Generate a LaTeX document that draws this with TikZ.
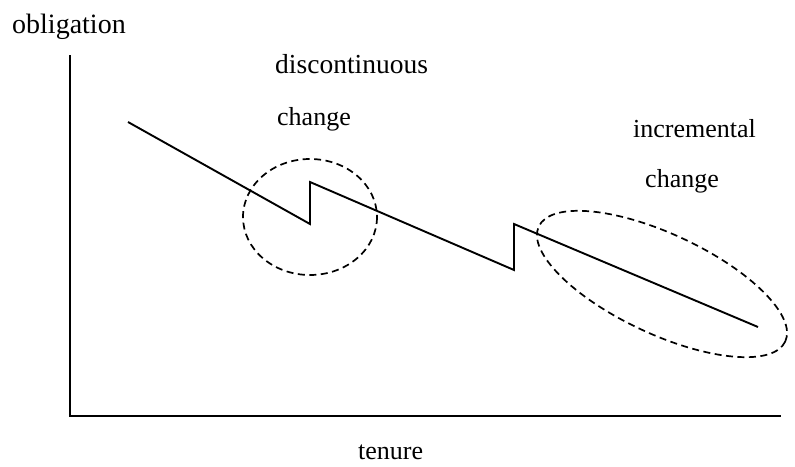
\documentclass[tikz,border=0pt]{standalone}
\usepackage{fontspec}
\setmainfont{Liberation Serif}
\begin{document}
\begin{tikzpicture}[x=1pt,y=-1pt,
  lbl/.style={anchor=base west,inner sep=0pt,font=\fontsize{26}{30}\selectfont},
  axis/.style={line width=2pt},
  curve/.style={line width=1.9pt,line join=miter},
  ring/.style={line width=1.7pt,dash pattern=on 7pt off 4.5pt}]
\useasboundingbox (0,0) rectangle (795,466);
\coordinate (top) at (70,55);
\coordinate (origin) at (70,416);
\coordinate (right) at (781,416);
\draw[axis] (top) -- (origin) -- (right);
\coordinate (p0) at (128,122);
\coordinate (p1) at (310,224);
\coordinate (p2) at (310,182);
\coordinate (p3) at (514,270);
\coordinate (p4) at (514,224);
\coordinate (p5) at (758,327);
\draw[curve] (p0) -- (p1) -- (p2) -- (p3) -- (p4) -- (p5);
\draw[ring] (310,217) ellipse [x radius=67, y radius=58];
\draw[ring] (662,284) ellipse [x radius=136, y radius=50, rotate=-25];
\node[lbl,font=\fontsize{28}{32}\selectfont] (obl) at (12,33) {obligation};
\node[lbl,font=\fontsize{27.5}{32}\selectfont] (disc) at (275,73) {discontinuous};
\node[lbl] (ch1) at (277,125) {change};
\node[lbl] (inc) at (633,137) {incremental};
\node[lbl] (ch2) at (645,187) {change};
\node[lbl] (ten) at (358,459) {tenure};
\end{tikzpicture}
\end{document}
